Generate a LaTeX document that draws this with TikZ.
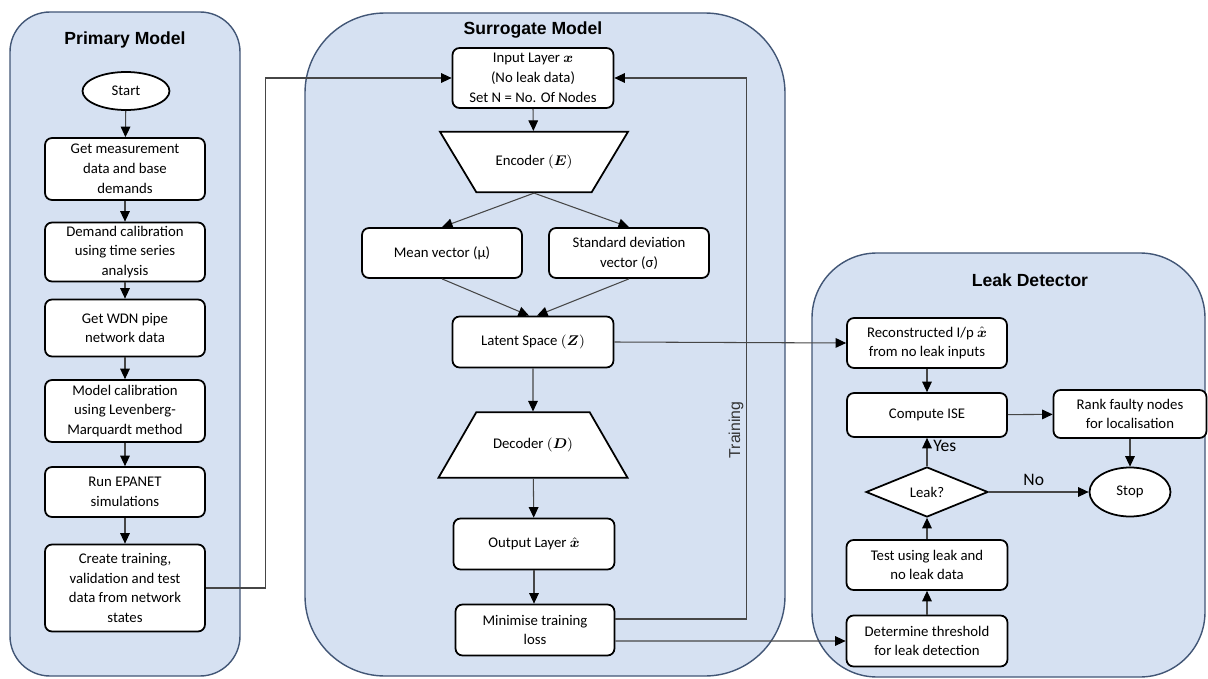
\documentclass[tikz,border=0pt]{standalone}
\usepackage{amsmath,amssymb}
\usepackage{fontspec}
\setmainfont{Carlito}
\newfontfamily\headfont{Liberation Sans}
\usetikzlibrary{shapes.geometric,arrows.meta}
\definecolor{panelfill}{RGB}{214,225,242}
\definecolor{panelline}{RGB}{66,86,118}
\definecolor{flowline}{RGB}{70,70,70}

\begin{document}
\begin{tikzpicture}[x=0.02cm,y=-0.02cm,
    panel/.style={draw=panelline,fill=panelfill,line width=0.8pt},
    paneltitle/.style={font=\headfont\bfseries\fontsize{10}{12}\selectfont},
    procbox/.style={draw,line width=1pt,rounded corners=4pt,fill=white,align=center,minimum width=3.2cm,inner sep=1pt,font=\fontsize{8.4}{11.3}\selectfont},
    terminal/.style={ellipse,draw,line width=1pt,fill=white,inner sep=0pt,font=\fontsize{8.4}{10}\selectfont},
    coder/.style={trapezium,trapezium stretches body=true,draw,line width=1pt,fill=white,inner xsep=0pt,font=\fontsize{8.4}{10}\selectfont},
    flow/.style={draw=flowline,line width=0.6pt,-{Triangle[length=6pt,width=5.5pt,color=black]}}]
\useasboundingbox (0,0) rectangle (1208,679);
\draw[panel,rounded corners=0.8cm] (10,12) rectangle (240,676);
\draw[panel,rounded corners=1.6cm] (305,13) rectangle (785,676);
\draw[panel,rounded corners=1.3cm] (812,253) rectangle (1205,677);
\node[paneltitle] (ptitle) at (125,40) {Primary Model};
\node[paneltitle] (stitle) at (533,30) {Surrogate Model};
\node[paneltitle] (ltitle) at (1030,280) {Leak Detector};

\node[terminal,minimum width=1.74cm,minimum height=0.76cm] (start) at (126,91) {Start};
\node[procbox,minimum height=1.24cm] (getdata) at (125,169) {Get measurement\\data and base\\demands};
\node[procbox,minimum height=1.18cm] (demand) at (125,252) {Demand calibration\\using time series\\analysis};
\node[procbox,minimum height=1.14cm] (wdn) at (125,328) {Get WDN pipe\\network data};
\node[procbox,minimum height=1.24cm] (calib) at (125,411) {Model calibration\\using Levenberg-\\Marquardt method};
\node[procbox,minimum height=1cm] (epanet) at (125,492) {Run EPANET\\simulations};
\node[procbox,minimum height=1.74cm] (create) at (125,588) {Create training,\\validation and test\\data from network\\states};

\node[procbox,minimum width=3.22cm,minimum height=1.2cm] (input) at (533,78) {Input Layer $\boldsymbol{x}$\\(No leak data)\\Set N = No. Of Nodes};
\node[coder,shape border rotate=180,trapezium angle=59,inner ysep=13.2pt,minimum width=3.76cm] (encoder) at (534,162) {Encoder $(\boldsymbol{E})$};
\node[procbox,minimum height=1cm] (mean) at (442,253) {Mean vector (μ)};
\node[procbox,minimum height=1cm] (stdev) at (629,253) {Standard deviation\\vector (σ)};
\node[procbox,minimum width=3.22cm,minimum height=1.02cm] (latent) at (533,342) {Latent Space $(\boldsymbol{Z})$};
\node[coder,trapezium angle=60,inner ysep=14.6pt,minimum width=3.78cm] (decoder) at (533,445) {Decoder $(\boldsymbol{D})$};
\node[procbox,minimum width=3.22cm,minimum height=1.02cm] (output) at (534,544) {Output Layer $\hat{\boldsymbol{x}}$};
\node[procbox,minimum width=3.18cm,minimum height=1.02cm] (minimise) at (535,630) {Minimise training\\loss};
\node[font=\headfont\fontsize{9}{10}\selectfont,text=black!80,rotate=90] (trainlbl) at (736,430) {Training};

\node[procbox,minimum height=1cm] (recon) at (927,343) {Reconstructed I/p $\hat{\boldsymbol{x}}$\\from no leak inputs};
\node[procbox,minimum height=0.88cm] (ise) at (927,415) {Compute ISE};
\node[procbox,minimum width=3.06cm,minimum height=0.96cm] (rank) at (1130,414) {Rank faulty nodes\\for localisation};
\node[diamond,draw,line width=1pt,fill=white,aspect=2.44,inner sep=0pt,minimum width=2.44cm,minimum height=1cm,font=\fontsize{8.4}{10}\selectfont] (leak) at (927,492) {Leak?};
\node[terminal,minimum width=1.62cm,minimum height=0.98cm] (stop) at (1130,492) {Stop};
\node[procbox,minimum width=3.22cm,minimum height=1cm] (test) at (927,565) {Test using leak and\\no leak data};
\node[procbox,minimum width=3.22cm,minimum height=1.02cm] (thresh) at (927,641) {Determine threshold\\for leak detection};

\foreach \a/\b in {start/getdata,getdata/demand,demand/wdn,wdn/calib,calib/epanet,epanet/create}
    \draw[flow] (\a) -- (\b);
\draw[flow] (create.east) -- ++(60,0) |- (input.west);
\draw[flow] (input.south) -- (encoder);
\draw[flow] (encoder.south) -- (mean.north);
\draw[flow] (encoder.south) -- (stdev.north);
\draw[flow] (mean.south) -- ([xshift=-0.08cm]latent.north);
\draw[flow] (stdev.south) -- ([xshift=0.08cm]latent.north);
\draw[flow] (latent) -- (decoder);
\draw[flow] (decoder) -- (output);
\draw[flow] (output.south) -- (output.south|-minimise.north);
\draw[flow] ([yshift=0.22cm]minimise.east) -- ++(131,0) |- (input.east);
\draw[flow] (latent.east) -- (recon.west);
\draw[flow] ([yshift=-0.22cm]minimise.east) -- (thresh.west);

\draw[flow] (recon) -- (ise);
\draw[flow] (ise) -- (rank);
\draw[flow] (rank) -- (stop);
\draw[flow] (thresh) -- (test);
\draw[flow] (test) -- (leak);
\draw[flow] (leak) -- node[right,pos=0.7,font=\fontsize{10}{12}\selectfont]{Yes} (ise);
\draw[flow] (leak.east) -- node[above,pos=0.45,font=\fontsize{10}{12}\selectfont]{No} (stop.west);
\end{tikzpicture}
\end{document}
